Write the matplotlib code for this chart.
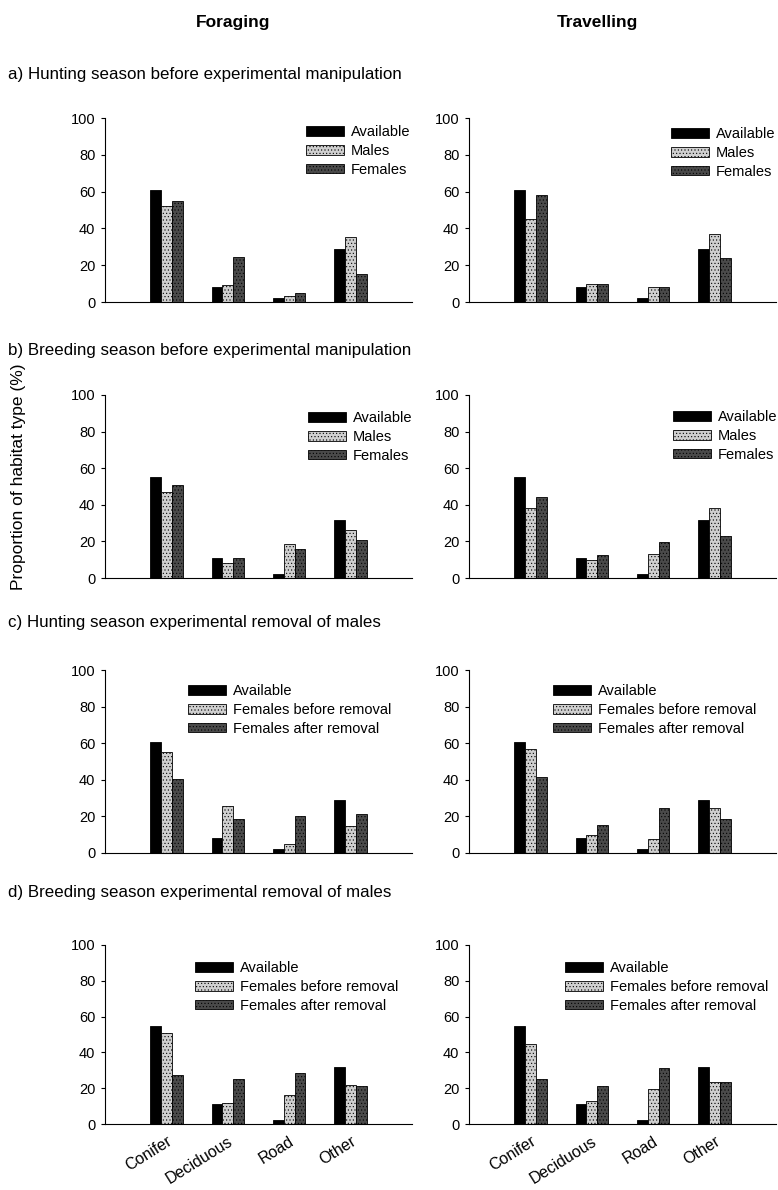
import matplotlib
matplotlib.use('Agg')
import matplotlib.pyplot as plt
import numpy as np

plt.rcParams['font.family'] = ['Liberation Sans', 'DejaVu Sans']
plt.rcParams['hatch.linewidth'] = 0.4

W, H = 778, 1190

habitats = ['Conifer', 'Deciduous', 'Road', 'Other']

# a) hunting season before manipulation
a_for_avail = [61, 8, 2, 29]
a_for_males = [52, 9, 3.5, 35.5]
a_for_fem = [55, 24.5, 5, 15]
a_trv_avail = [61, 8, 2, 29]
a_trv_males = [45, 10, 8, 37]
a_trv_fem = [58, 10, 8, 24]

# b) breeding season before manipulation
b_for_avail = [55, 11, 2, 31.5]
b_for_males = [47, 8, 18.5, 26]
b_for_fem = [51, 11, 16, 21]
b_trv_avail = [55, 11, 2, 31.5]
b_trv_males = [38.5, 10, 13, 38]
b_trv_fem = [44, 12.5, 19.5, 23]

# c) hunting season removal of males
c_for_avail = [60.5, 8, 2, 29]
c_for_before = [55, 25.5, 5, 15]
c_for_after = [40.5, 18.5, 20, 21.5]
c_trv_avail = [60.5, 8, 2, 29]
c_trv_before = [57, 10, 7.5, 24.5]
c_trv_after = [41.5, 15.5, 24.5, 18.5]

# d) breeding season removal of males
d_for_avail = [55, 11, 2, 32]
d_for_before = [51, 12, 16, 22]
d_for_after = [27.5, 25, 28.5, 21]
d_trv_avail = [55, 11, 2, 32]
d_trv_before = [44.5, 13, 19.5, 23.5]
d_trv_after = [25, 21.5, 31.5, 23.5]

labels_ab = ['Available', 'Males', 'Females']
labels_cd = ['Available', 'Females before removal', 'Females after removal']

section_titles = ['a) Hunting season before experimental manipulation',
                  'b) Breeding season before experimental manipulation',
                  'c) Hunting season experimental removal of males',
                  'd) Breeding season experimental removal of males']

styles = [dict(facecolor='black', hatch=None),
          dict(facecolor='#cfcfcf', hatch='.....'),
          dict(facecolor='#4a4a4a', hatch='.....')]

fig = plt.figure(figsize=(W / 100, H / 100), dpi=100)


def px_axes(x0, x1, ytop, ybot):
    return fig.add_axes([x0 / W, 1 - ybot / H, (x1 - x0) / W, (ybot - ytop) / H])


def draw_panel(ax, series, labels, leg_xy, show_x):
    x = np.arange(len(habitats))
    bw = 0.175
    for i, (vals, lab) in enumerate(zip(series, labels)):
        st = styles[i]
        ax.bar(x + (i - 1) * bw, vals, bw, color=st['facecolor'], hatch=st['hatch'],
               edgecolor='black', linewidth=0.6, label=lab)
    ax.set_xlim(-1.0, 4.0)
    ax.set_ylim(0, 100)
    ax.set_yticks(range(0, 101, 20))
    ax.spines['top'].set_visible(False)
    ax.spines['right'].set_visible(False)
    ax.spines['left'].set_linewidth(0.8)
    ax.spines['bottom'].set_linewidth(0.8)
    ax.tick_params(axis='y', length=3, width=0.8, labelsize=10.5, pad=4)
    ax.tick_params(axis='x', length=0, pad=7)
    ax.set_xticks(x)
    if show_x:
        ax.set_xticklabels(habitats, rotation=32, ha='right', rotation_mode='anchor', fontsize=11.5)
    else:
        ax.set_xticklabels([])
    ax.legend(loc='upper left', bbox_to_anchor=(leg_xy[0] / W, 1 - leg_xy[1] / H),
              bbox_transform=fig.transFigure, frameon=False, fontsize=10.5,
              borderpad=0, borderaxespad=0, handlelength=2.6, handleheight=0.65,
              handletextpad=0.5, labelspacing=0.33)


rows = [(118, 302), (395, 578), (670, 853), (945, 1124)]
data = [
    ([a_for_avail, a_for_males, a_for_fem], [a_trv_avail, a_trv_males, a_trv_fem], labels_ab),
    ([b_for_avail, b_for_males, b_for_fem], [b_trv_avail, b_trv_males, b_trv_fem], labels_ab),
    ([c_for_avail, c_for_before, c_for_after], [c_trv_avail, c_trv_before, c_trv_after], labels_cd),
    ([d_for_avail, d_for_before, d_for_after], [d_trv_avail, d_trv_before, d_trv_after], labels_cd),
]
legend_pos = [((306, 125), (671, 127)),
              ((308, 411), (673, 410)),
              ((188, 684), (553, 684)),
              ((195, 961), (565, 961))]
title_y = [75, 350, 622, 893]

for r, ((ytop, ybot), (lser, rser, labs)) in enumerate(zip(rows, data)):
    axl = px_axes(105, 412, ytop, ybot)
    axr = px_axes(469, 776, ytop, ybot)
    draw_panel(axl, lser, labs, legend_pos[r][0], r == 3)
    draw_panel(axr, rser, labs, legend_pos[r][1], r == 3)
    fig.text(8 / W, 1 - title_y[r] / H, section_titles[r], fontsize=12.2, va='center', ha='left')

fig.text(233 / W, 1 - 22 / H, 'Foraging', fontsize=12.5, fontweight='bold', ha='center', va='center')
fig.text(597 / W, 1 - 22 / H, 'Travelling', fontsize=12.5, fontweight='bold', ha='center', va='center')
fig.text(19 / W, 1 - 477 / H, 'Proportion of habitat type (%)', fontsize=12.5, rotation=90,
         ha='center', va='center')

fig.savefig('out.png', dpi=100)
